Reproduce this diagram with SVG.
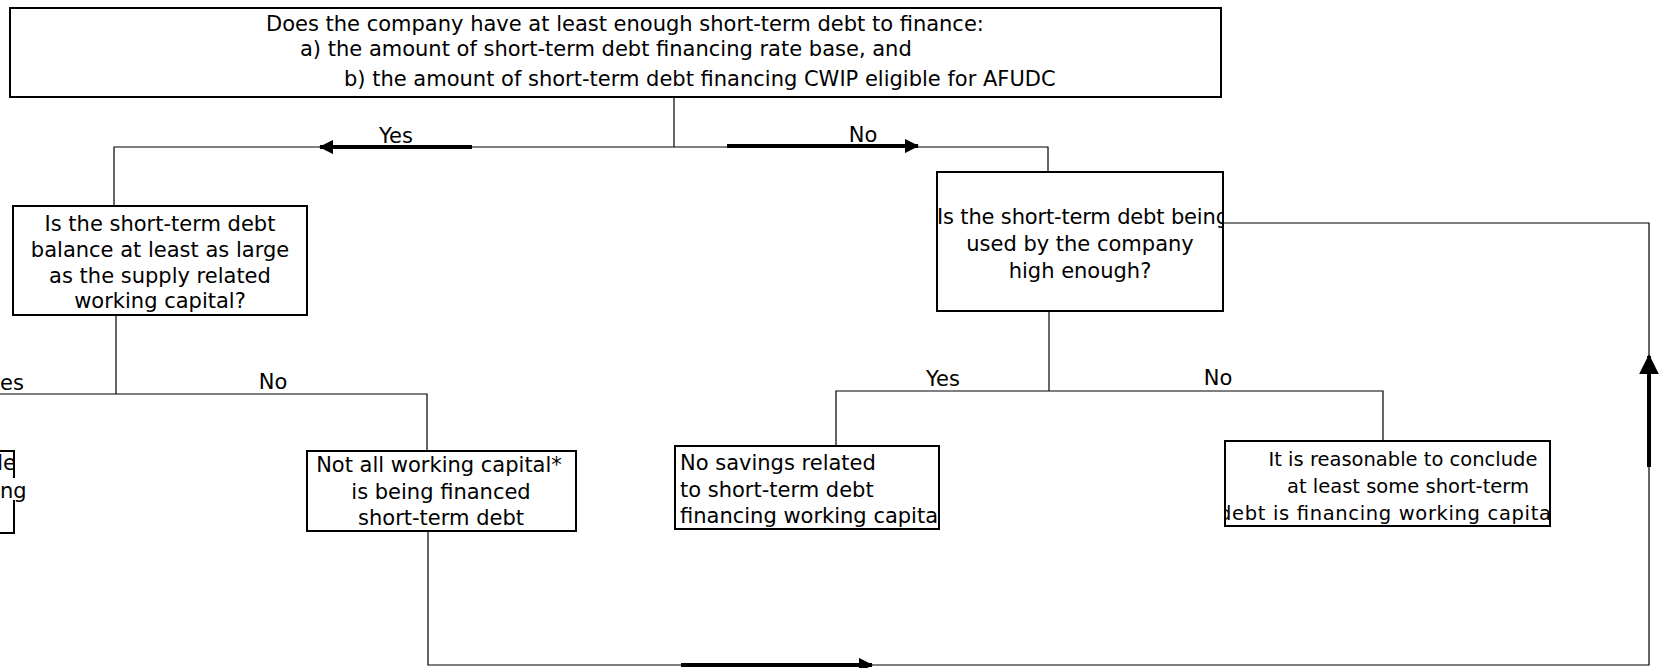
<svg xmlns="http://www.w3.org/2000/svg" width="1660" height="668" viewBox="0 0 1660 668">
<style>
.box{fill:#fff;stroke:#000;stroke-width:2}
.ln{fill:none;stroke:#000;stroke-width:1.2}
.thick{fill:none;stroke:#000;stroke-width:4}
text{font-family:"DejaVu Sans","Verdana",sans-serif;font-size:21px;fill:#000}
.c{text-anchor:middle}
.s19{font-size:19.5px}
</style>
<defs>
<marker id="ah" viewBox="0 0 12 12" refX="11" refY="6" markerWidth="3.6" markerHeight="3.6" orient="auto" markerUnits="strokeWidth">
<path d="M0,0 L12,6 L0,12 z" fill="#000"/>
</marker>
<marker id="ahBig" viewBox="0 0 12 12" refX="11" refY="6" markerWidth="5" markerHeight="5" orient="auto" markerUnits="strokeWidth">
<path d="M0,0 L12,6 L0,12 z" fill="#000"/>
</marker>
<clipPath id="clipL"><rect x="0" y="451" width="14" height="82"/></clipPath>
<clipPath id="clipC"><rect x="938" y="173" width="284" height="137"/></clipPath>
<clipPath id="clipD"><rect x="676" y="447" width="262" height="81"/></clipPath>
<clipPath id="clipE"><rect x="1226" y="442" width="323" height="83"/></clipPath>
</defs>

<g id="connectors">
<path class="ln" d="M674,97 V147"/>
<path class="ln" d="M114,206 V147 H1048 V172"/>
<path class="thick" d="M472,147 H320" marker-end="url(#ah)"/>
<path class="thick" d="M727,146 H918" marker-end="url(#ah)"/>
<text x="396" y="143" class="c">Yes</text>
<text x="863" y="142" class="c">No</text>

<path class="ln" d="M116,315 V394"/>
<path class="ln" d="M0,394 H427 V451"/>
<text x="0" y="390">es</text>
<text x="273" y="389" class="c">No</text>

<path class="ln" d="M1049,311 V391"/>
<path class="ln" d="M836,446 V391 H1383 V442"/>
<text x="943" y="386" class="c">Yes</text>
<text x="1218" y="385" class="c">No</text>

<path class="ln" d="M428,531 V665 H1649 V223 H1223"/>
<path class="thick" d="M681,665 H872" marker-end="url(#ah)"/>
<path class="thick" d="M1649,467 V356" marker-end="url(#ahBig)"/>
</g>

<g id="node-top">
<rect class="box" x="10" y="8" width="1211" height="89"/>
<text x="266" y="31">Does the company have at least enough short-term debt to finance:</text>
<text x="300" y="56">a) the amount of short-term debt financing rate base, and</text>
<text x="344" y="86">b) the amount of short-term debt financing CWIP eligible for AFUDC</text>
</g>

<g id="node-balance">
<rect class="box" x="13" y="206" width="294" height="109"/>
<text x="160" y="231" class="c">Is the short-term debt</text>
<text x="160" y="257" class="c">balance at least as large</text>
<text x="160" y="283" class="c">as the supply related</text>
<text x="160" y="308" class="c">working capital?</text>
</g>

<g id="node-left-partial">
<path class="box" style="fill:none" d="M0,451 H14 V478 M14,500 V533 H0"/>
<text x="16" y="470" text-anchor="end" clip-path="url(#clipL)">le</text>
<text x="0" y="498">ng</text>
</g>

<g id="node-notall">
<rect class="box" x="307" y="451" width="269" height="80"/>
<text x="439" y="472" class="c">Not all working capital*</text>
<text x="441" y="499" class="c">is being financed</text>
<text x="441" y="525" class="c">short-term debt</text>
</g>

<g id="node-used">
<rect class="box" x="937" y="172" width="286" height="139"/>
<g clip-path="url(#clipC)">
<text x="1083" y="224" class="c" textLength="292">Is the short-term debt being</text>
<text x="1080" y="251" class="c">used by the company</text>
<text x="1080" y="278" class="c">high enough?</text>
</g>
</g>

<g id="node-nosavings">
<rect class="box" x="675" y="446" width="264" height="83"/>
<g clip-path="url(#clipD)">
<text x="680" y="470">No savings related</text>
<text x="680" y="497">to short-term debt</text>
<text x="680" y="523">financing working capital</text>
</g>
</g>

<g id="node-reasonable">
<rect class="box" x="1225" y="441" width="325" height="85"/>
<g clip-path="url(#clipE)">
<text x="1403" y="466" class="c s19">It is reasonable to conclude</text>
<text x="1408" y="493" class="c s19">at least some short-term</text>
<text x="1388" y="520" class="c s19" textLength="338">debt is financing working capital</text>
</g>
</g>
</svg>
